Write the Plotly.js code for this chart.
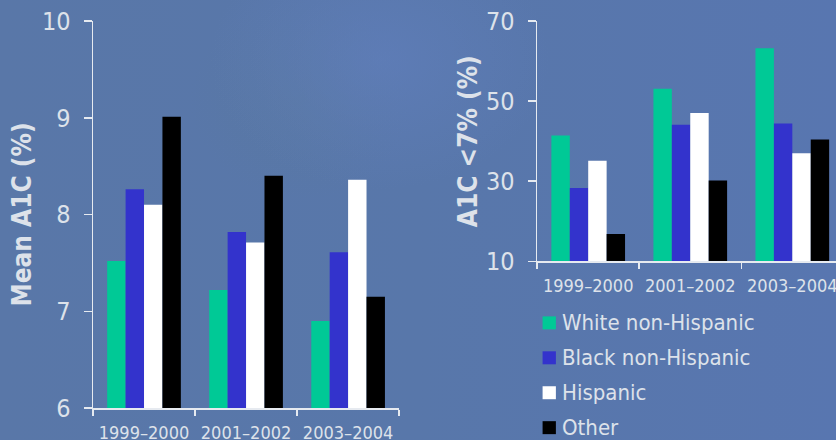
<!DOCTYPE html>
<html>
<head>
<meta charset="utf-8">
<script src="https://cdn.plot.ly/plotly-3.0.1.min.js"></script>
<style>
  html, body { margin: 0; padding: 0; }
  body {
    width: 836px; height: 440px; overflow: hidden;
    background:
      radial-gradient(ellipse 170px 130px at 380px 60px, rgba(98,128,192,0.55), rgba(98,128,192,0) 100%),
      radial-gradient(ellipse 110px 100px at 300px 100px, rgba(90,122,150,0.3), rgba(90,122,150,0) 100%),
      linear-gradient(90deg, #5977a8 0%, #5877aa 50%, #5876b0 100%);
  }
  #chart { width: 836px; height: 440px; }
</style>
</head>
<body>
<div id="chart"></div>
<script>
// Survey periods and population groups
const periods = ['1999–2000', '2001–2002', '2003–2004'];
const groups = ['White non-Hispanic', 'Black non-Hispanic', 'Hispanic', 'Other'];
const groupColors = ['#00c996', '#3333cc', '#ffffff', '#000000'];

// Mean A1C (%) by group
const meanWhite = [7.52, 7.22, 6.9];
const meanBlack = [8.26, 7.82, 7.61];
const meanHispanic = [8.1, 7.71, 8.36];
const meanOther = [9.01, 8.4, 7.15];

// Share reaching A1C < 7% (%) by group
const goalWhite = [41.4, 53.1, 63.2];
const goalBlack = [28.3, 44.1, 44.4];
const goalHispanic = [35.1, 47.0, 37.0];
const goalOther = [16.8, 30.2, 40.4];

// Axis ticks
const meanTicks = [6, 7, 8, 9, 10];
const goalTicks = [10, 30, 50, 70];

const meanSeries = [meanWhite, meanBlack, meanHispanic, meanOther];
const goalSeries = [goalWhite, goalBlack, goalHispanic, goalOther];

const textColor = '#dde2ea';
const lineColor = '#e6eaf0';
const FONT = '"DejaVu Sans Condensed", "DejaVu Sans", sans-serif';

const W = 836, H = 440;
const M = { l: 93.3, r: 0, t: 20.5, b: 31.7 };
const plotW = W - M.l - M.r, plotH = H - M.t - M.b;
const px2x = px => (px - M.l) / plotW;
const py2y = py => (H - M.b - py) / plotH;

const traces = [];
groups.forEach((g, i) => {
  traces.push({
    type: 'bar', name: g, x: periods, y: meanSeries[i],
    xaxis: 'x', yaxis: 'y', marker: { color: groupColors[i], line: { width: 0 } },
    showlegend: false, hoverinfo: 'skip'
  });
  traces.push({
    type: 'bar', name: g, x: periods, y: goalSeries[i],
    xaxis: 'x2', yaxis: 'y2', marker: { color: groupColors[i], line: { width: 0 } },
    showlegend: false, hoverinfo: 'skip'
  });
});

const xCommon = {
  type: 'category', showline: true, linecolor: lineColor, linewidth: 1.5,
  ticks: 'outside', tickson: 'boundaries', ticklen: 6, tickwidth: 1.5, tickcolor: lineColor,
  tickfont: { family: FONT, size: 18, color: textColor },
  ticklabelstandoff: 8,
  showgrid: false, zeroline: false, fixedrange: true
};
const yCommon = {
  showline: true, linecolor: lineColor, linewidth: 1.5,
  ticks: 'outside', ticklen: 8, tickwidth: 1.5, tickcolor: lineColor,
  tickfont: { family: FONT, size: 25, color: textColor },
  ticklabelstandoff: 8,
  showgrid: false, zeroline: false, fixedrange: true
};

// Hand-placed key below the right panel
const shapes = [];
const annotations = [];
groups.forEach((g, i) => {
  const cy = 323 + i * 35;
  shapes.push({
    type: 'rect', xref: 'paper', yref: 'paper',
    x0: px2x(542.7), x1: px2x(556), y0: py2y(cy + 6.5), y1: py2y(cy - 6.5),
    fillcolor: groupColors[i], line: { width: 0 }
  });
  annotations.push({
    xref: 'paper', yref: 'paper', x: px2x(560.5), y: py2y(cy),
    xanchor: 'left', yanchor: 'middle', showarrow: false, text: g,
    font: { family: FONT, size: 22, color: textColor }
  });
});

const layout = {
  width: W, height: H,
  margin: M,
  paper_bgcolor: 'rgba(0,0,0,0)', plot_bgcolor: 'rgba(0,0,0,0)',
  barmode: 'group', bargap: 0.278, bargroupgap: 0,
  showlegend: false,
  xaxis: Object.assign({}, xCommon, { domain: [0, px2x(399.3)], range: [-0.5, 2.5], anchor: 'y' }),
  yaxis: Object.assign({}, yCommon, {
    domain: [0, 1], range: [6, 10], tickvals: meanTicks, anchor: 'x',
    title: { text: 'Mean A1C (%)', standoff: 3, font: { family: FONT, size: 26, color: textColor, weight: 'bold' } }
  }),
  xaxis2: Object.assign({}, xCommon, { domain: [px2x(537.3), 1], range: [-0.5, 2.428], anchor: 'y2' }),
  yaxis2: Object.assign({}, yCommon, {
    domain: [py2y(261.3), 1], range: [10, 70], tickvals: goalTicks, anchor: 'x2',
    title: { text: 'A1C &lt;7% (%)', standoff: 1, font: { family: FONT, size: 26, color: textColor, weight: 'bold' } }
  }),
  shapes: shapes,
  annotations: annotations
};

Plotly.newPlot('chart', traces, layout, { displayModeBar: false, staticPlot: true });
</script>
</body>
</html>
